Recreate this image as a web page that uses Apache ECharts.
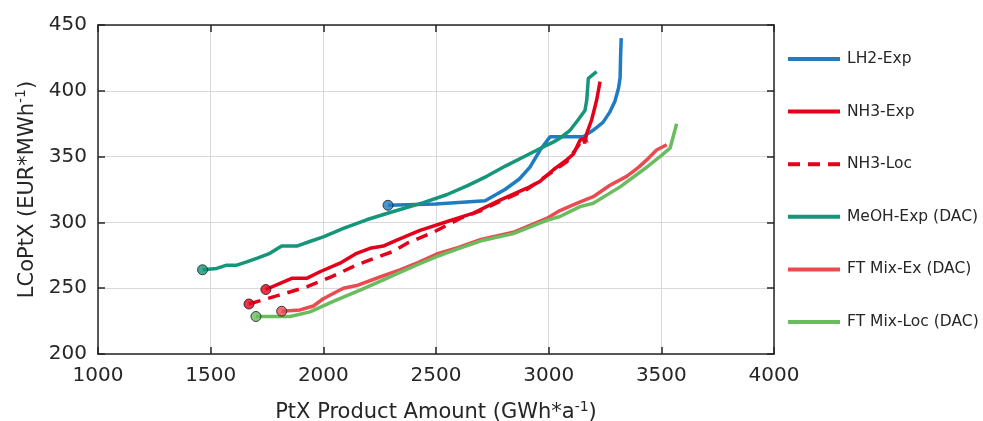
<!DOCTYPE html>
<html>
<head>
<meta charset="utf-8">
<script src="https://cdn.jsdelivr.net/npm/echarts@6/dist/echarts.min.js"></script>
<style>
html,body{margin:0;padding:0;background:#fff;}
#chart{width:983px;height:421px;}
</style>
</head>
<body>
<div id="chart"></div>
<script>
// ---- data ----
const seriesNames = ['LH2-Exp', 'NH3-Exp', 'NH3-Loc', 'MeOH-Exp (DAC)', 'FT Mix-Ex (DAC)', 'FT Mix-Loc (DAC)'];

const lh2Exp = [[2287,313],[2500,314],[2718,316.5],[2806,325],[2870,333],[2917,342],[2962,355],[3006,365],[3152,365],[3197,370],[3241,376],[3272,384],[3294,392],[3310,402],[3317,410],[3319,425],[3322,440]];

const nh3Exp = [[1745,249],[1808,253.7],[1860,257.5],[1926,257.5],[1985,262.5],[2074,269],[2148,276.5],[2207,280.3],[2266,282],[2326,286.6],[2429,294],[2547,300.5],[2666,307],[2784,317],[2903,326],[2960,331],[3021,340],[3080,347.5],[3110,352],[3139,362.5],[3155,364],[3160,360],[3169,367.7],[3191,378],[3213,393],[3228,407]];

const nh3Loc = [[1670,238],[1800,244.5],[1926,251],[2040,259],[2148,267.6],[2230,273],[2311,278],[2370,284],[2488,292.5],[2607,303],[2700,309],[2784,316],[2903,325],[3021,339],[3080,346],[3139,360],[3175,362]];

const meohExp = [[1464,264],[1527,265],[1571,267.5],[1616,267.5],[1660,270],[1710,273],[1763,276.5],[1815,282],[1882,282],[1940,285.5],[2000,289],[2089,295.5],[2192,302],[2296,307.5],[2444,315],[2547,321],[2640,328],[2725,335],[2810,343],[2903,351],[2960,356],[3020,361],[3050,364],[3095,370],[3131,378],[3161,385],[3169,393],[3176,409.5],[3213,414.5]];

const ftMixEx = [[1815,232.5],[1896,233.5],[1956,236.5],[2000,242],[2044,246],[2089,250],[2148,252],[2251,258.5],[2340,264],[2420,269.5],[2503,276],[2600,281],[2700,287],[2843,292.5],[2991,303],[3050,309],[3124,314.5],[3198,319.5],[3270,328],[3346,335],[3400,342],[3435,347.5],[3479,355],[3524,359]];

const ftMixLoc = [[1701,228.5],[1852,228.5],[1941,232],[2044,240],[2163,248.5],[2281,257.5],[2340,262],[2420,268],[2503,274],[2600,280],[2700,286],[2843,291.5],[2991,301.5],[3050,304.5],[3139,312],[3198,314.5],[3317,327],[3420,340],[3494,350],[3539,356.5],[3568,375]];

const xTicks = [1000, 1500, 2000, 2500, 3000, 3500, 4000];
const yTicks = [200, 250, 300, 350, 400, 450];

// ---- styling ----
const allData = [lh2Exp, nh3Exp, nh3Loc, meohExp, ftMixEx, ftMixLoc];
const colors = ['#1f7cc2', '#e3001b', '#e3001b', '#15957a', '#ea4b50', '#69bd5f'];
const dashes = ['solid', 'solid', [12, 8], 'solid', 'solid', 'solid'];
const txt = '#262626';

const lineSeries = seriesNames.map((n, i) => ({
  name: n,
  type: 'line',
  data: allData[i],
  symbol: 'none',
  color: colors[i],
  lineStyle: { width: 3.5, color: colors[i], type: dashes[i] },
  z: 2 + i
}));

const markerSeries = {
  type: 'scatter',
  symbol: 'circle',
  symbolSize: 10,
  z: 20,
  silent: true,
  data: allData.map((d, i) => ({
    value: d[0],
    itemStyle: { color: colors[i], borderColor: '#1a1a1a', borderWidth: 1 }
  }))
};

const chart = echarts.init(document.getElementById('chart'), null, { renderer: 'canvas' });
const rich = {
  a: { fontSize: 21, color: txt, fontFamily: 'DejaVu Sans', lineHeight: 26 },
  s: { fontSize: 14, color: txt, fontFamily: 'DejaVu Sans', lineHeight: 26, verticalAlign: 'top', padding: [0, 0, 8, 0] }
};

chart.setOption({
  animation: false,
  backgroundColor: '#ffffff',
  grid: { left: 98, right: 209, top: 25, bottom: 67, outerBoundsMode: 'none', containLabel: false },
  legend: {
    data: seriesNames,
    orient: 'vertical',
    left: 786,
    top: 51,
    padding: 0,
    itemWidth: 52,
    itemHeight: 14,
    itemGap: 36.6,
    itemStyle: { opacity: 0 },
    lineStyle: { width: 4 },
    textStyle: { fontSize: 15.5, color: txt, fontFamily: 'DejaVu Sans', padding: [0, 0, 0, 2] }
  },
  xAxis: [{
    type: 'value',
    min: 1000, max: 4000, interval: 500,
    name: '{a|PtX Product Amount (GWh*a}{s|-1}{a|)}',
    nameLocation: 'middle',
    nameGap: 46,
    nameTextStyle: { rich: rich },
    axisLine: { onZero: false, lineStyle: { color: txt, width: 1.5 } },
    axisTick: { inside: true, length: 7, lineStyle: { color: txt, width: 1.5 } },
    axisLabel: { fontSize: 20, color: txt, fontFamily: 'DejaVu Sans', margin: 12,
      formatter: v => xTicks.includes(v) ? String(v) : '' },
    splitLine: { show: true, lineStyle: { color: '#d9d9d9', width: 1 } }
  }, {
    type: 'value', position: 'top',
    min: 1000, max: 4000, interval: 500,
    axisLine: { onZero: false, lineStyle: { color: txt, width: 1.5 } },
    axisTick: { inside: true, length: 7, lineStyle: { color: txt, width: 1.5 } },
    axisLabel: { show: false },
    splitLine: { show: false }
  }],
  yAxis: [{
    type: 'value',
    min: 200, max: 450, interval: 50,
    name: '{a|LCoPtX (EUR*MWh}{s|-1}{a|)}',
    nameLocation: 'middle',
    nameGap: 56,
    nameTextStyle: { rich: rich },
    axisLine: { show: true, onZero: false, lineStyle: { color: txt, width: 1.5 } },
    axisTick: { show: true, inside: true, length: 7, lineStyle: { color: txt, width: 1.5 } },
    axisLabel: { fontSize: 20, color: txt, fontFamily: 'DejaVu Sans', margin: 11,
      formatter: v => yTicks.includes(v) ? String(v) : '' },
    splitLine: { show: true, lineStyle: { color: '#d9d9d9', width: 1 } }
  }, {
    type: 'value', position: 'right',
    min: 200, max: 450, interval: 50,
    axisLine: { show: true, onZero: false, lineStyle: { color: txt, width: 1.5 } },
    axisTick: { show: true, inside: true, length: 7, lineStyle: { color: txt, width: 1.5 } },
    axisLabel: { show: false },
    splitLine: { show: false }
  }],
  series: lineSeries.concat([markerSeries])
});
</script>
</body>
</html>
